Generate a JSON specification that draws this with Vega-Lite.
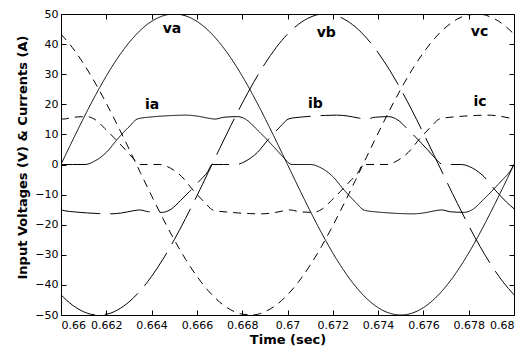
{
"$schema": "https://vega.github.io/schema/vega-lite/v6.json",
"width": 453, "height": 301,
"autosize": {"type": "none"},
"padding": {"left": 61, "top": 14, "right": 17, "bottom": 36},
"background": "white",
"config": {
 "view": {"stroke": "black", "strokeWidth": 1},
 "axis": {"grid": false, "domain": false, "tickColor": "black", "tickSize": -5, "tickWidth": 1,
  "labelFont": "DejaVu Sans", "labelFontSize": 11, "labelColor": "black",
  "titleFont": "DejaVu Sans", "titleFontSize": 13, "titleFontWeight": "bold", "titleColor": "black"}
},
"datasets": {
 "curves": [
  {"s":"va","t":0.66,"v":0},{"s":"va","t":0.6605,"v":7.82},{"s":"va","t":0.661,"v":15.45},{"s":"va","t":0.6615,"v":22.70},{"s":"va","t":0.662,"v":29.39},{"s":"va","t":0.6625,"v":35.36},{"s":"va","t":0.663,"v":40.45},{"s":"va","t":0.6635,"v":44.55},{"s":"va","t":0.664,"v":47.55},{"s":"va","t":0.6645,"v":49.38},{"s":"va","t":0.665,"v":50},{"s":"va","t":0.6655,"v":49.38},{"s":"va","t":0.666,"v":47.55},{"s":"va","t":0.6665,"v":44.55},{"s":"va","t":0.667,"v":40.45},{"s":"va","t":0.6675,"v":35.36},{"s":"va","t":0.668,"v":29.39},{"s":"va","t":0.6685,"v":22.70},{"s":"va","t":0.669,"v":15.45},{"s":"va","t":0.6695,"v":7.82},{"s":"va","t":0.67,"v":0},{"s":"va","t":0.6705,"v":-7.82},{"s":"va","t":0.671,"v":-15.45},{"s":"va","t":0.6715,"v":-22.70},{"s":"va","t":0.672,"v":-29.39},{"s":"va","t":0.6725,"v":-35.36},{"s":"va","t":0.673,"v":-40.45},{"s":"va","t":0.6735,"v":-44.55},{"s":"va","t":0.674,"v":-47.55},{"s":"va","t":0.6745,"v":-49.38},{"s":"va","t":0.675,"v":-50},{"s":"va","t":0.6755,"v":-49.38},{"s":"va","t":0.676,"v":-47.55},{"s":"va","t":0.6765,"v":-44.55},{"s":"va","t":0.677,"v":-40.45},{"s":"va","t":0.6775,"v":-35.36},{"s":"va","t":0.678,"v":-29.39},{"s":"va","t":0.6785,"v":-22.70},{"s":"va","t":0.679,"v":-15.45},{"s":"va","t":0.6795,"v":-7.82},{"s":"va","t":0.68,"v":0},
  {"s":"vb","t":0.66,"v":-43.30},{"s":"vb","t":0.6605,"v":-46.68},{"s":"vb","t":0.661,"v":-48.91},{"s":"vb","t":0.6615,"v":-49.93},{"s":"vb","t":0.662,"v":-49.73},{"s":"vb","t":0.6625,"v":-48.30},{"s":"vb","t":0.663,"v":-45.68},{"s":"vb","t":0.6635,"v":-41.93},{"s":"vb","t":0.664,"v":-37.16},{"s":"vb","t":0.6645,"v":-31.47},{"s":"vb","t":0.665,"v":-25},{"s":"vb","t":0.6655,"v":-17.92},{"s":"vb","t":0.666,"v":-10.40},{"s":"vb","t":0.6665,"v":-2.62},{"s":"vb","t":0.667,"v":5.23},{"s":"vb","t":0.6675,"v":12.94},{"s":"vb","t":0.668,"v":20.34},{"s":"vb","t":0.6685,"v":27.23},{"s":"vb","t":0.669,"v":33.46},{"s":"vb","t":0.6695,"v":38.86},{"s":"vb","t":0.67,"v":43.30},{"s":"vb","t":0.6705,"v":46.68},{"s":"vb","t":0.671,"v":48.91},{"s":"vb","t":0.6715,"v":49.93},{"s":"vb","t":0.672,"v":49.73},{"s":"vb","t":0.6725,"v":48.30},{"s":"vb","t":0.673,"v":45.68},{"s":"vb","t":0.6735,"v":41.93},{"s":"vb","t":0.674,"v":37.16},{"s":"vb","t":0.6745,"v":31.47},{"s":"vb","t":0.675,"v":25},{"s":"vb","t":0.6755,"v":17.92},{"s":"vb","t":0.676,"v":10.40},{"s":"vb","t":0.6765,"v":2.62},{"s":"vb","t":0.677,"v":-5.23},{"s":"vb","t":0.6775,"v":-12.94},{"s":"vb","t":0.678,"v":-20.34},{"s":"vb","t":0.6785,"v":-27.23},{"s":"vb","t":0.679,"v":-33.46},{"s":"vb","t":0.6795,"v":-38.86},{"s":"vb","t":0.68,"v":-43.30},
  {"s":"vc","t":0.66,"v":43.30},{"s":"vc","t":0.6605,"v":38.86},{"s":"vc","t":0.661,"v":33.46},{"s":"vc","t":0.6615,"v":27.23},{"s":"vc","t":0.662,"v":20.34},{"s":"vc","t":0.6625,"v":12.94},{"s":"vc","t":0.663,"v":5.23},{"s":"vc","t":0.6635,"v":-2.62},{"s":"vc","t":0.664,"v":-10.40},{"s":"vc","t":0.6645,"v":-17.92},{"s":"vc","t":0.665,"v":-25},{"s":"vc","t":0.6655,"v":-31.47},{"s":"vc","t":0.666,"v":-37.16},{"s":"vc","t":0.6665,"v":-41.93},{"s":"vc","t":0.667,"v":-45.68},{"s":"vc","t":0.6675,"v":-48.30},{"s":"vc","t":0.668,"v":-49.73},{"s":"vc","t":0.6685,"v":-49.93},{"s":"vc","t":0.669,"v":-48.91},{"s":"vc","t":0.6695,"v":-46.68},{"s":"vc","t":0.67,"v":-43.30},{"s":"vc","t":0.6705,"v":-38.86},{"s":"vc","t":0.671,"v":-33.46},{"s":"vc","t":0.6715,"v":-27.23},{"s":"vc","t":0.672,"v":-20.34},{"s":"vc","t":0.6725,"v":-12.94},{"s":"vc","t":0.673,"v":-5.23},{"s":"vc","t":0.6735,"v":2.62},{"s":"vc","t":0.674,"v":10.40},{"s":"vc","t":0.6745,"v":17.92},{"s":"vc","t":0.675,"v":25},{"s":"vc","t":0.6755,"v":31.47},{"s":"vc","t":0.676,"v":37.16},{"s":"vc","t":0.6765,"v":41.93},{"s":"vc","t":0.677,"v":45.68},{"s":"vc","t":0.6775,"v":48.30},{"s":"vc","t":0.678,"v":49.73},{"s":"vc","t":0.6785,"v":49.93},{"s":"vc","t":0.679,"v":48.91},{"s":"vc","t":0.6795,"v":46.68},{"s":"vc","t":0.68,"v":43.30},
  {"s":"ia","t":0.66,"v":0},{"s":"ia","t":0.6605,"v":0},{"s":"ia","t":0.66106,"v":0},{"s":"ia","t":0.6615,"v":1.2},{"s":"ia","t":0.662,"v":4},{"s":"ia","t":0.6625,"v":8.5},{"s":"ia","t":0.663,"v":12.5},{"s":"ia","t":0.6634,"v":15.2},{"s":"ia","t":0.664,"v":15.8},{"s":"ia","t":0.6645,"v":16.1},{"s":"ia","t":0.665,"v":16.3},{"s":"ia","t":0.6655,"v":16.4},{"s":"ia","t":0.666,"v":16.1},{"s":"ia","t":0.6665,"v":15.4},{"s":"ia","t":0.6668,"v":15.1},{"s":"ia","t":0.6672,"v":15.7},{"s":"ia","t":0.6678,"v":15.9},{"s":"ia","t":0.6682,"v":14.8},{"s":"ia","t":0.6686,"v":12},{"s":"ia","t":0.669,"v":9},{"s":"ia","t":0.6695,"v":5},{"s":"ia","t":0.6698,"v":2.5},{"s":"ia","t":0.6702,"v":0},{"s":"ia","t":0.671,"v":0},{"s":"ia","t":0.6715,"v":-1.2},{"s":"ia","t":0.672,"v":-4},{"s":"ia","t":0.6725,"v":-8.5},{"s":"ia","t":0.673,"v":-12.5},{"s":"ia","t":0.6734,"v":-15.2},{"s":"ia","t":0.674,"v":-15.8},{"s":"ia","t":0.6745,"v":-16.1},{"s":"ia","t":0.675,"v":-16.3},{"s":"ia","t":0.6755,"v":-16.4},{"s":"ia","t":0.676,"v":-16.1},{"s":"ia","t":0.6765,"v":-15.4},{"s":"ia","t":0.6768,"v":-15.1},{"s":"ia","t":0.6772,"v":-15.7},{"s":"ia","t":0.6778,"v":-15.9},{"s":"ia","t":0.6782,"v":-14.8},{"s":"ia","t":0.6786,"v":-12},{"s":"ia","t":0.679,"v":-9},{"s":"ia","t":0.6795,"v":-5},{"s":"ia","t":0.6798,"v":-2.5},{"s":"ia","t":0.68,"v":0},
  {"s":"ib","t":0.66,"v":-14.7},{"s":"ib","t":0.66007,"v":-15.2},{"s":"ib","t":0.66067,"v":-15.8},{"s":"ib","t":0.66117,"v":-16.1},{"s":"ib","t":0.66167,"v":-16.3},{"s":"ib","t":0.66217,"v":-16.4},{"s":"ib","t":0.66267,"v":-16.1},{"s":"ib","t":0.66317,"v":-15.4},{"s":"ib","t":0.66347,"v":-15.1},{"s":"ib","t":0.66387,"v":-15.7},{"s":"ib","t":0.66447,"v":-15.9},{"s":"ib","t":0.66487,"v":-14.8},{"s":"ib","t":0.66527,"v":-12},{"s":"ib","t":0.66567,"v":-9},{"s":"ib","t":0.66617,"v":-5},{"s":"ib","t":0.66647,"v":-2.5},{"s":"ib","t":0.66667,"v":0},{"s":"ib","t":0.66717,"v":0},{"s":"ib","t":0.66773,"v":0},{"s":"ib","t":0.66817,"v":1.2},{"s":"ib","t":0.66867,"v":4},{"s":"ib","t":0.66917,"v":8.5},{"s":"ib","t":0.66967,"v":12.5},{"s":"ib","t":0.67007,"v":15.2},{"s":"ib","t":0.67067,"v":15.8},{"s":"ib","t":0.67117,"v":16.1},{"s":"ib","t":0.67167,"v":16.3},{"s":"ib","t":0.67217,"v":16.4},{"s":"ib","t":0.67267,"v":16.1},{"s":"ib","t":0.67317,"v":15.4},{"s":"ib","t":0.67347,"v":15.1},{"s":"ib","t":0.67387,"v":15.7},{"s":"ib","t":0.67447,"v":15.9},{"s":"ib","t":0.67487,"v":14.8},{"s":"ib","t":0.67527,"v":12},{"s":"ib","t":0.67567,"v":9},{"s":"ib","t":0.67617,"v":5},{"s":"ib","t":0.67647,"v":2.5},{"s":"ib","t":0.67687,"v":0},{"s":"ib","t":0.67767,"v":0},{"s":"ib","t":0.67817,"v":-1.2},{"s":"ib","t":0.67867,"v":-4},{"s":"ib","t":0.67917,"v":-8.5},{"s":"ib","t":0.67967,"v":-12.5},{"s":"ib","t":0.68,"v":-14.7},
  {"s":"ic","t":0.66,"v":15.2},{"s":"ic","t":0.66013,"v":15.1},{"s":"ic","t":0.66053,"v":15.7},{"s":"ic","t":0.66113,"v":15.9},{"s":"ic","t":0.66153,"v":14.8},{"s":"ic","t":0.66193,"v":12},{"s":"ic","t":0.66233,"v":9},{"s":"ic","t":0.66283,"v":5},{"s":"ic","t":0.66313,"v":2.5},{"s":"ic","t":0.66353,"v":0},{"s":"ic","t":0.66433,"v":0},{"s":"ic","t":0.66483,"v":-1.2},{"s":"ic","t":0.66533,"v":-4},{"s":"ic","t":0.66583,"v":-8.5},{"s":"ic","t":0.66633,"v":-12.5},{"s":"ic","t":0.66673,"v":-15.2},{"s":"ic","t":0.66733,"v":-15.8},{"s":"ic","t":0.66783,"v":-16.1},{"s":"ic","t":0.66833,"v":-16.3},{"s":"ic","t":0.66883,"v":-16.4},{"s":"ic","t":0.66933,"v":-16.1},{"s":"ic","t":0.66983,"v":-15.4},{"s":"ic","t":0.67013,"v":-15.1},{"s":"ic","t":0.67053,"v":-15.7},{"s":"ic","t":0.67113,"v":-15.9},{"s":"ic","t":0.67153,"v":-14.8},{"s":"ic","t":0.67193,"v":-12},{"s":"ic","t":0.67233,"v":-9},{"s":"ic","t":0.67283,"v":-5},{"s":"ic","t":0.67313,"v":-2.5},{"s":"ic","t":0.67333,"v":0},{"s":"ic","t":0.67383,"v":0},{"s":"ic","t":0.67439,"v":0},{"s":"ic","t":0.67483,"v":1.2},{"s":"ic","t":0.67533,"v":4},{"s":"ic","t":0.67583,"v":8.5},{"s":"ic","t":0.67633,"v":12.5},{"s":"ic","t":0.67673,"v":15.2},{"s":"ic","t":0.67733,"v":15.8},{"s":"ic","t":0.67783,"v":16.1},{"s":"ic","t":0.67833,"v":16.3},{"s":"ic","t":0.67883,"v":16.4},{"s":"ic","t":0.67933,"v":16.1},{"s":"ic","t":0.67983,"v":15.4},{"s":"ic","t":0.68,"v":15.2}
 ],
 "labels": [
  {"label":"va","t":0.66490,"v":43.6},{"label":"ia","t":0.66402,"v":18.3},
  {"label":"vb","t":0.67171,"v":42.5},{"label":"ib","t":0.67123,"v":18.7},
  {"label":"vc","t":0.67848,"v":42.7},{"label":"ic","t":0.67850,"v":19.4}
 ]
},
"layer": [
 {
  "data": {"name": "curves"},
  "mark": {"type": "line", "color": "black", "strokeWidth": 1, "interpolate": "monotone", "clip": true},
  "encoding": {
   "x": {"field": "t", "type": "quantitative", "scale": {"domain": [0.66, 0.68], "nice": false, "zero": false},
     "axis": {"orient": "bottom", "title": "Time (sec)", "values": [0.66,0.662,0.664,0.666,0.668,0.67,0.672,0.674,0.676,0.678,0.68], "format": "~g", "labelPadding": 9, "titlePadding": 3}},
   "y": {"field": "v", "type": "quantitative", "scale": {"domain": [-50, 50], "nice": false, "zero": false},
     "axis": {"orient": "left", "title": "Input Voltages (V) & Currents (A)", "values": [-50,-40,-30,-20,-10,0,10,20,30,40,50], "labelPadding": 8, "titlePadding": 5, "titleY": 143}},
   "detail": {"field": "s"},
   "strokeDash": {"field": "s", "type": "nominal", "legend": null,
     "scale": {"domain": ["va","vb","vc","ia","ib","ic"], "range": [[1,0],[40,10],[8,6],[1,0],[40,10],[8,6]]}}
  }
 },
 {
  "data": {"name": "labels"},
  "mark": {"type": "text", "font": "DejaVu Sans", "fontWeight": "bold", "fontSize": 14, "align": "center", "baseline": "alphabetic", "color": "black"},
  "encoding": {
   "x": {"field": "t", "type": "quantitative", "axis": {"orient": "top", "title": null, "labels": false, "values": [0.66,0.662,0.664,0.666,0.668,0.67,0.672,0.674,0.676,0.678,0.68]}},
   "y": {"field": "v", "type": "quantitative", "axis": {"orient": "right", "title": null, "labels": false, "values": [-50,-40,-30,-20,-10,0,10,20,30,40,50]}},
   "text": {"field": "label"}
  }
 }
],
"resolve": {"axis": {"x": "independent", "y": "independent"}}
}
